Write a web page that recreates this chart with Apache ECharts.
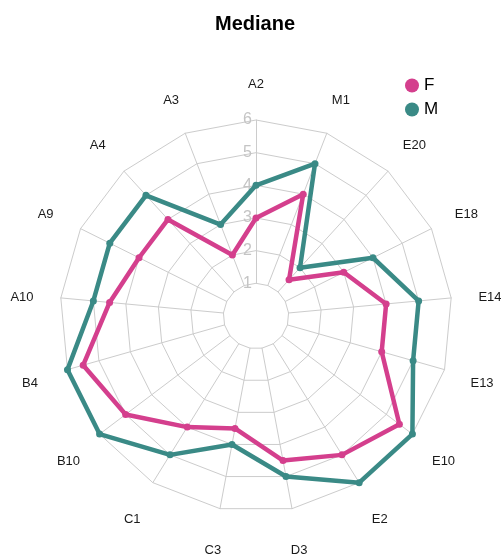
<!DOCTYPE html>
<html>
<head>
<meta charset="utf-8">
<script src="https://cdn.jsdelivr.net/npm/echarts@6/dist/echarts.min.js"></script>
<style>
  html, body { margin: 0; padding: 0; background: #fff; }
  #chart { width: 501px; height: 556px; }
</style>
</head>
<body>
<div id="chart"></div>
<script>
// categories in clockwise order starting at the top
var categories = ['A2', 'M1', 'E20', 'E18', 'E14', 'E13', 'E10', 'E2', 'D3', 'C3', 'C1', 'B10', 'B4', 'A10', 'A9', 'A4', 'A3'];
var valuesF = [3, 4, 1.5, 3, 4, 4, 5.5, 5, 4.5, 3.5, 4, 5, 5.5, 4.5, 4, 4, 2];
var valuesM = [4, 5, 2, 4, 5, 5, 6, 6, 5, 4, 5, 6, 6, 5, 5, 5, 3];
var seriesNames = ['F', 'M'];
var colors = ['#d43f8d', '#3a8a86'];

// echarts lays indicators out counter-clockwise, so flip (keep the first one on top)
function toCCW(arr) {
  return [arr[0]].concat(arr.slice(1).reverse());
}

var indicators = toCCW(categories).map(function (c, i) {
  var ind = { name: c, min: 1, max: 6 };
  if (i === 0) ind.axisLabel = { show: true };  // only the top axis gets tick labels
  return ind;
});

var chart = echarts.init(document.getElementById('chart'));

var option = {
  backgroundColor: '#fff',
  title: {
    text: 'Mediane',
    left: 250,
    textAlign: 'center',
    top: 9,
    textStyle: { fontFamily: 'Liberation Sans', fontSize: 20, fontWeight: 'bold', color: '#000' }
  },
  legend: {
    orient: 'vertical',
    left: 400,
    top: 72,
    itemWidth: 14,
    itemHeight: 14,
    itemGap: 7,
    icon: 'circle',
    data: seriesNames,
    textStyle: { fontFamily: 'Liberation Sans', fontSize: 17, color: '#000' }
  },
  radar: {
    center: [256, 316],
    radius: [32.7, 196],
    startAngle: 90,
    shape: 'polygon',
    splitNumber: 5,
    nameGap: 39,
    axisName: {
      color: '#1a1a1a',
      fontFamily: 'Liberation Sans',
      fontSize: 13,
      align: 'center',
      verticalAlign: 'top',
      lineHeight: 7
    },
    splitArea: { show: false },
    splitLine: { lineStyle: { color: '#cccccc', width: 1 } },
    axisLine: { lineStyle: { color: '#cccccc', width: 1 } },
    axisTick: { show: false },
    axisLabel: {
      show: false,
      color: '#c4c4c4',
      fontFamily: 'Liberation Sans',
      fontSize: 16,
      margin: 4,
      showMinLabel: true,
      showMaxLabel: true
    },
    indicator: indicators
  },
  series: [{
    type: 'radar',
    symbol: 'circle',
    symbolSize: 7,
    data: [
      { name: 'F', value: toCCW(valuesF), itemStyle: { color: colors[0] }, lineStyle: { color: colors[0], width: 4.5 } },
      { name: 'M', value: toCCW(valuesM), itemStyle: { color: colors[1] }, lineStyle: { color: colors[1], width: 4.5 } }
    ]
  }]
};

chart.setOption(option);
</script>
</body>
</html>
